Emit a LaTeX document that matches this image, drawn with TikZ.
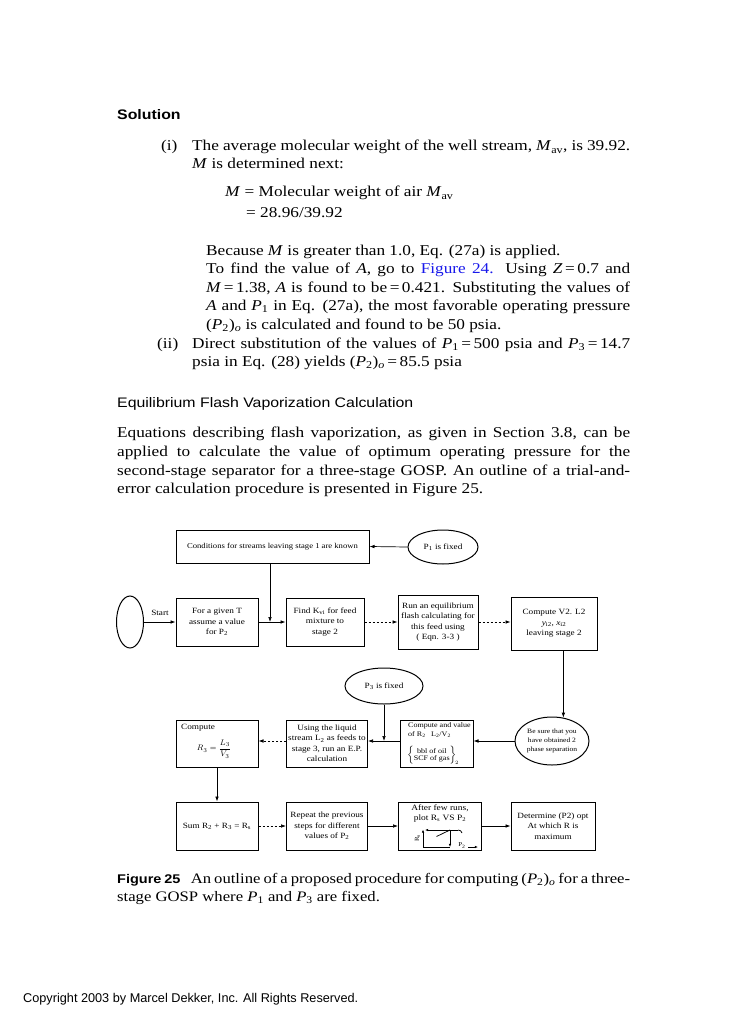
\documentclass[tikz,border=0pt]{standalone}
\usepackage{fontspec}
\setmainfont{Liberation Serif}[FakeStretch=1.15]
\setsansfont{Liberation Sans}[FakeStretch=1.15]
\newfontfamily\plainsans{Liberation Sans}
\usetikzlibrary{arrows.meta,shapes.geometric}
\definecolor{linkblue}{RGB}{25,25,235}
\newcommand\sub[1]{\textsubscript{#1}}
\tikzset{
  body/.style={font=\fontsize{15}{18.7}\selectfont, inner sep=0pt, anchor=base west},
  head/.style={font=\sffamily\fontsize{13.8}{16}\selectfont, inner sep=0pt, anchor=base west},
  box/.style={draw, line width=1pt, align=center, font=\fontsize{8}{10.5}\selectfont, inner sep=1pt},
  oval/.style={draw, ellipse, line width=1pt, align=center, font=\fontsize{8}{10.5}\selectfont, inner sep=0pt},
  small/.style={font=\fontsize{8}{10.5}\selectfont, inner sep=0pt, align=center},
  arr/.style={-{Latex[length=5pt,width=3.6pt]}, line width=0.7pt},
  darr/.style={arr, dash pattern=on 2.5pt off 1.5pt},
  garr/.style={-{Latex[length=3.2pt,width=2.6pt]}, line width=0.75pt},
  gline/.style={line width=0.75pt},
}
\begin{document}
\begin{tikzpicture}[x=1pt,y=-1pt]
\fill[white] (0,0) rectangle (735,1024);
\useasboundingbox (0,0) rectangle (735,1024);

% ---------- text ----------
\node[head, font=\sffamily\bfseries\fontsize{13.8}{16}\selectfont] (sol) at (117,120) {Solution};
\node[body] (i) at (161,151) {(i)};
\node[body] (l1) at (192,151) {\hbox to 438pt{The average molecular weight of the well stream, \textit{M}\sub{av}, is 39.92.}};
\node[body] (l2) at (192,169) {\textit{M} is determined next:};
\node[body] (l3) at (225,197) {\textit{M} = Molecular weight of air \textit{M}\sub{av}};
\node[body] (l4) at (246,218) {= 28.96/39.92};
\node[body] (l5) at (206,255) {Because \textit{M} is greater than 1.0, Eq. (27a) is applied.};
\node[body] (l6) at (206,273) {\hbox to 424pt{To find the value of \textit{A}, go to \textcolor{linkblue}{Figure 24.} Using \textit{Z}\,=\,0.7 and}};
\node[body] (l7) at (206,292) {\hbox to 424pt{\textit{M}\,=\,1.38, \textit{A} is found to be\,=\,0.421. Substituting the values of}};
\node[body] (l8) at (206,310) {\hbox to 424pt{\textit{A} and \textit{P}\sub{1} in Eq. (27a), the most favorable operating pressure}};
\node[body] (l9) at (206,329) {(\textit{P}\sub{2})\sub{\textit{o}} is calculated and found to be 50 psia.};
\node[body] (ii) at (157,348) {(ii)};
\node[body] (l10) at (192,348) {\hbox to 438pt{Direct substitution of the values of \textit{P}\sub{1}\,=\,500 psia and \textit{P}\sub{3}\,=\,14.7}};
\node[body] (l11) at (192,366) {psia in Eq. (28) yields (\textit{P}\sub{2})\sub{\textit{o}}\,=\,85.5 psia};

\node[head] (eq) at (117,407) {Equilibrium Flash Vaporization Calculation};
\node[body] (p1) at (117,437) {\hbox to 513pt{Equations describing flash vaporization, as given in Section 3.8, can be}};
\node[body] (p2) at (117,456) {\hbox to 513pt{applied to calculate the value of optimum operating pressure for the}};
\node[body] (p3) at (117,475) {\hbox to 513pt{second-stage separator for a three-stage GOSP. An outline of a trial-and-}};
\node[body] (p4) at (117,493) {error calculation procedure is presented in Figure 25.};

\node[body, font=\fontsize{14.5}{18}\selectfont] (c1) at (117,883) {\hbox to 513pt{{\sffamily\bfseries\fontsize{12.6}{14}\selectfont Figure 25}\enspace\ An outline of a proposed procedure for computing (\textit{P}\sub{2})\sub{\textit{o}} for a three-}};
\node[body, font=\fontsize{14.5}{18}\selectfont] (c2) at (117,901) {stage GOSP where \textit{P}\sub{1} and \textit{P}\sub{3} are fixed.};

\node[inner sep=0pt, anchor=base west, font=\plainsans\fontsize{12.7}{14}\selectfont] (copy) at (23,1002) {Copyright 2003 by Marcel Dekker, Inc. All Rights Reserved.};

% ---------- diagram ----------
\node[box, minimum width=193pt, minimum height=33pt, font=\fontsize{7.5}{10}\selectfont] (A) at (272.5,546.5) {Conditions for streams leaving stage 1 are known};
\node[oval, minimum width=70pt, minimum height=34pt] (P1) at (443,547) {P\sub{1} is fixed};
\node[oval, minimum width=27pt, minimum height=52pt] (S) at (130,622) {};
\node[small] (st) at (160,613) {Start};
\node[box, minimum width=82pt, minimum height=48pt] (B) at (217,622) {For a given T\\assume a value\\for P\sub{2}};
\node[box, minimum width=78pt, minimum height=48pt] (C) at (325,622) {Find K\sub{vi} for feed\\mixture to\\stage 2};
\node[box, minimum width=80pt, minimum height=54pt] (D) at (438,622) {Run an equilibrium\\flash calculating for\\this feed using\\( Eqn. 3-3 )};
\node[box, minimum width=86pt, minimum height=53pt] (E) at (554,623.5) {Compute V2. L2\\\textit{y}\sub{i2}, \textit{x}\sub{i2}\\leaving stage 2};

\node[oval, minimum width=78pt, minimum height=36pt] (P3) at (384,686) {P\sub{3} is fixed};
\node[oval, minimum width=74pt, minimum height=48pt, font=\fontsize{6.6}{8.6}\selectfont] (Bs) at (552,741) {Be sure that you\\have obtained 2\\phase separation};
\node[box, minimum width=73pt, minimum height=47pt] (F) at (436.5,743.5) {};
\node[small, anchor=west, align=left, font=\fontsize{7}{8.4}\selectfont] (Fa) at (408,730) {Compute and value\\of R\sub{2}\enspace\ L\sub{2}/V\sub{2}};
\node[small, anchor=west, font=\fontsize{7}{8.4}\selectfont] (Fb) at (407,755.5) {\renewcommand\arraystretch{0.8}$\left\{\begin{tabular}{@{}c@{}}bbl of oil\\SCF of gas\end{tabular}\right\}_{\!2}$};
\node[box, minimum width=81pt, minimum height=47pt] (G) at (327,743.5) {Using the liquid\\stream L\sub{2} as feeds to\\stage 3, run an E.P.\\calculation};
\node[box, minimum width=82pt, minimum height=47pt] (H) at (217,743.5) {};
\node[small, anchor=west] (Ht) at (181,728) {Compute};
\node[small] (Hf) at (214,749) {$\displaystyle R_3=\frac{L_3}{V_3}$};

\node[box, minimum width=82pt, minimum height=48pt] (I) at (217,826) {Sum R\sub{2} + R\sub{3} = R\sub{s}};
\node[box, minimum width=81pt, minimum height=48pt] (J) at (327,826) {Repeat the previous\\steps for different\\values of P\sub{2}};
\node[box, minimum width=83pt, minimum height=48pt] (K) at (440,826) {};
\node[small, font=\fontsize{8.2}{10}\selectfont] (Kt) at (440,813) {After few runs,\\plot R\sub{s} VS P\sub{2}};
\node[box, minimum width=84pt, minimum height=48pt] (L) at (553,826) {Determine (P2) opt\\At which R is\\maximum};

% mini graph in K
\coordinate (g0) at (423,847);
\coordinate (g1) at (423,829.5);
\coordinate (g2) at (450,847);
\coordinate (g3) at (450,830);
\draw[garr] (g0) -- (g1);
\draw[gline] (g0) -- (g2);
\draw[garr] (g3) -- (g2);
\draw[garr] (458,830) -- (425,830);
\draw[gline] (458,830) to[out=0,in=100] (462,833);
\draw[gline] (436.5,836.5) -- (g3);
\node[small, rotate=90, font=\fontsize{6}{7}\selectfont] (Rl) at (417.5,838) {R\sub{s}};
\node[small, font=\fontsize{6}{7}\selectfont] (Pl) at (462,845.5) {P\sub{2}};
\draw[garr] (468,847) -- (478,847);

% connectors
\coordinate (jA) at (270,622);
\draw[arr] (P1.west) -- (A.east);
\draw[arr] (A.south -| jA) -- (jA);
\draw[arr] (S.east) -- (B.west);
\draw[arr] (B.east) -- (C.west);
\draw[darr] (C.east) -- (D.west);
\draw[darr] (D.east) -- (D.east -| E.west);
\draw[arr] (E.south -| Bs.64) -- (Bs.64);
\draw[arr] (Bs.west) -- (Bs.west -| F.east);
\draw[arr] (P3.south) -- (P3.south |- Bs.west);
\draw[arr] (F.west |- Bs.west) -- (G.east |- Bs.west);
\draw[darr] (G.west |- Bs.west) -- (H.east |- Bs.west);
\draw[arr] (H.south) -- (I.north);
\draw[darr] (I.east) -- (J.west);
\draw[arr] (J.east) -- (K.west);
\draw[arr] (K.east) -- (L.west);
\end{tikzpicture}
\end{document}
